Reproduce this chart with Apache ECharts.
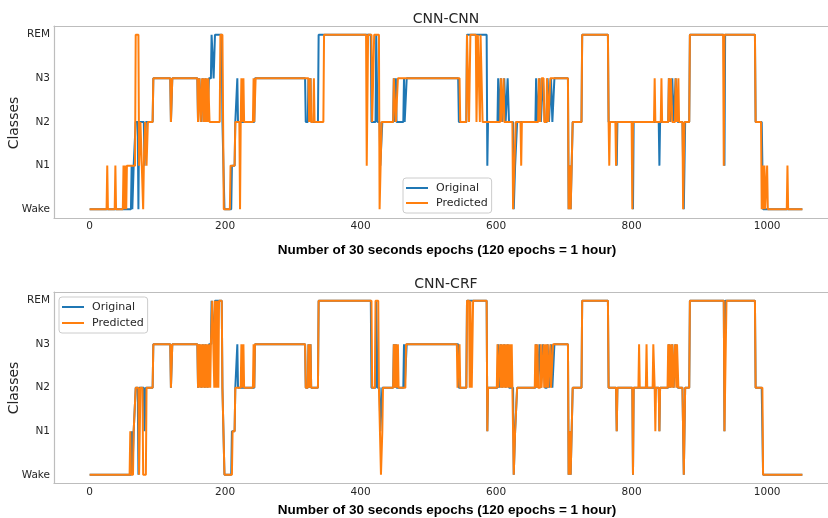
<!DOCTYPE html>
<html>
<head>
<meta charset="utf-8">
<script src="https://cdn.jsdelivr.net/npm/echarts@6/dist/echarts.min.js"></script>
<style>
html,body{margin:0;padding:0;background:#fff;}
#chart{width:828px;height:518px;}
</style>
</head>
<body>
<div id="chart"></div>
<script>
// Sleep stages (y categories) and x tick values
const stageLabels = ['Wake', 'N1', 'N2', 'N3', 'REM'];
const stageValues = [0, 1, 2, 3, 4];
const xTicks = [0, 200, 400, 600, 800, 1000];
const lastEpoch = 1052;

// Hypnograms as runs: [first epoch of run, stage index]
const originalRuns = [
  [0,0],[62,1],[63,0],[65,1],[68,2],[72,0],[73,2],[81,1],[83,2],[94,3],[120,2],[122,3],
  [160,2],[162,3],[165,2],[167,3],[170,2],[171,3],[174,2],[176,3],[180,4],[183,3],[185,4],
  [196,2],[199,0],[210,1],[215,2],[218,3],[219,2],[244,3],[319,2],[323,3],[324,2],[326,3],
  [327,2],[338,4],[416,2],[423,4],[425,2],[429,1],[432,2],[449,3],[450,2],[452,3],[453,2],
  [464,3],[465,2],[468,3],[545,2],[557,4],[587,1],[588,2],[603,3],[605,2],[607,3],[609,2],
  [612,3],[614,2],[617,3],[619,2],[626,0],[628,1],[631,2],[659,3],[661,2],[664,3],[666,2],
  [669,3],[672,2],[676,3],[678,2],[681,3],[683,2],[686,3],[707,0],[709,1],[710,0],[713,2],
  [727,4],[766,2],[778,1],[779,2],[802,0],[803,2],[841,1],[842,2],[855,3],[857,2],[860,3],
  [862,2],[865,3],[868,2],[876,1],[877,0],[878,1],[879,2],[886,4],[937,1],[938,4],[983,2],
  [993,1],[994,0]
];
const cnnCnnRuns = [
  [0,0],[26,1],[27,0],[38,1],[39,0],[50,1],[51,0],[52,1],[54,0],[55,1],[68,4],[73,1],[75,2],
  [77,1],[79,0],[80,1],[82,2],[84,1],[86,2],[94,3],[120,2],[122,3],[160,2],[162,3],[164,2],
  [166,3],[168,2],[169,3],[171,2],[172,3],[174,2],[175,3],[177,2],[193,4],[197,2],[198,0],
  [208,1],[215,2],[222,0],[223,2],[224,3],[225,2],[227,3],[228,2],[242,3],[243,2],[245,3],
  [324,2],[326,3],[327,2],[331,3],[332,2],[346,4],[409,1],[411,4],[417,2],[420,4],[428,0],
  [431,2],[449,3],[452,2],[455,3],[547,2],[557,4],[560,2],[562,4],[571,2],[573,4],[576,2],
  [577,4],[580,2],[607,3],[608,2],[611,3],[612,2],[625,0],[627,1],[629,2],[637,1],[638,2],
  [663,3],[665,2],[667,3],[671,2],[675,3],[677,2],[680,3],[707,0],[709,1],[710,0],[713,2],
  [727,4],[766,2],[767,1],[768,2],[777,1],[778,2],[801,0],[802,2],[834,3],[835,2],[844,3],
  [845,2],[855,3],[856,2],[858,3],[860,2],[865,3],[867,2],[869,3],[870,2],[876,0],[878,2],
  [886,4],[936,1],[937,4],[983,2],[992,0],[994,1],[995,0],[996,1],[997,0],[1000,1],[1001,0],
  [1030,1],[1031,0]
];
const cnnCrfRuns = [
  [0,0],[60,1],[61,0],[65,1],[68,2],[73,0],[75,2],[79,0],[84,2],[94,3],[120,2],[122,3],
  [160,2],[161,3],[163,2],[164,3],[166,2],[167,3],[169,2],[170,3],[172,2],[173,3],[175,2],
  [176,3],[178,2],[179,3],[181,4],[184,2],[185,4],[187,2],[188,4],[190,2],[191,4],[196,2],
  [199,0],[211,1],[215,2],[224,3],[225,2],[227,3],[228,2],[242,3],[243,2],[244,3],[319,2],
  [323,3],[324,2],[326,3],[327,2],[338,4],[417,2],[422,4],[427,2],[430,0],[432,1],[433,2],
  [449,3],[450,2],[452,3],[453,2],[455,3],[456,2],[467,3],[543,2],[546,3],[547,2],[557,4],
  [561,2],[562,4],[564,2],[566,4],[587,1],[588,2],[602,3],[603,2],[606,3],[607,2],[608,3],
  [609,2],[611,3],[612,2],[614,3],[615,2],[617,3],[618,2],[620,3],[621,2],[623,3],[624,2],
  [626,0],[628,1],[631,2],[658,3],[659,2],[661,3],[662,2],[666,3],[667,2],[670,3],[671,2],
  [673,3],[674,2],[676,3],[677,2],[680,3],[681,2],[684,3],[707,0],[709,1],[710,0],[713,2],
  [727,4],[766,2],[778,1],[779,2],[802,0],[803,2],[811,3],[812,2],[822,3],[823,2],[832,3],
  [834,2],[835,1],[836,2],[841,1],[842,2],[854,3],[856,2],[857,3],[859,2],[860,3],[862,2],
  [864,3],[866,2],[867,3],[869,2],[876,1],[877,0],[878,1],[879,2],[886,4],[937,1],[940,4],
  [983,2],[994,0]
];

function expand(runs) {
  const pts = [];
  for (let i = 0; i < runs.length; i++) {
    const s = runs[i][0], v = runs[i][1];
    const e = i < runs.length - 1 ? runs[i + 1][0] - 1 : lastEpoch;
    pts.push([s, v]);
    if (e > s) pts.push([e, v]);
  }
  return pts;
}

const BLUE = '#1f77b4', ORANGE = '#ff7f0e';
const FONT = 'DejaVu Sans';
const FRAME = {show: true, onZero: false, lineStyle: {color: '#bdbdbd', width: 1.2}};

function xAxisCfg(gi) {
  return {
    type: 'value', gridIndex: gi, min: -52.6, max: 1104.6, position: 'bottom',
    axisLine: FRAME, axisTick: {show: false}, splitLine: {show: false},
    axisLabel: {customValues: xTicks, formatter: v => String(Math.round(v)),
      fontSize: 10.5, fontFamily: FONT, color: '#262626', margin: 3}
  };
}
function xAxisTopCfg(gi) {
  return {
    type: 'value', gridIndex: gi, min: -52.6, max: 1104.6, position: 'top',
    axisLine: FRAME, axisTick: {show: false}, splitLine: {show: false}, axisLabel: {show: false}
  };
}
function yAxisCfg(gi) {
  return {
    type: 'value', gridIndex: gi, min: -0.2, max: 4.2, position: 'left',
    axisLine: FRAME, axisTick: {show: false}, splitLine: {show: false},
    axisLabel: {customValues: stageValues, formatter: v => stageLabels[Math.round(v)] || '',
      fontSize: 10.5, fontFamily: FONT, color: '#262626', margin: 4}
  };
}
function lineSeries(name, runs, color, gi) {
  return {
    type: 'line', name: name, xAxisIndex: gi, yAxisIndex: gi, data: expand(runs),
    symbol: 'none', showSymbol: false, animation: false,
    lineStyle: {color: color, width: 2}, itemStyle: {color: color}
  };
}
function legendCfg(left, top, gap) {
  return {
    left: left, top: top, orient: 'vertical', data: ['Original', 'Predicted'],
    icon: 'rect', itemWidth: 22, itemHeight: 2, itemGap: gap,
    textStyle: {fontSize: 11, fontFamily: FONT, color: '#262626', lineHeight: 14, padding: [0, 0, 0, 3]},
    backgroundColor: '#ffffff', borderColor: '#cccccc', borderWidth: 1, borderRadius: 3,
    padding: [3, 4, 3, 3]
  };
}

const chart = echarts.init(document.getElementById('chart'), null, {renderer: 'canvas'});
chart.setOption({
  animation: false,
  backgroundColor: '#ffffff',
  grid: [
    {left: 54, top: 26, width: 784, height: 192, show: false, containLabel: false, outerBoundsMode: 'none'},
    {left: 54, top: 292, width: 784, height: 191.5, show: false, containLabel: false, outerBoundsMode: 'none'}
  ],
  xAxis: [xAxisCfg(0), xAxisCfg(1), xAxisTopCfg(0), xAxisTopCfg(1)],
  yAxis: [yAxisCfg(0), yAxisCfg(1)],
  legend: [legendCfg(403, 178, 1), legendCfg(59, 297, 2)],
  series: [
    lineSeries('Original', originalRuns, BLUE, 0),
    lineSeries('Predicted', cnnCnnRuns, ORANGE, 0),
    lineSeries('Original', originalRuns, BLUE, 1),
    lineSeries('Predicted', cnnCrfRuns, ORANGE, 1)
  ],
  graphic: [
    {type: 'text', x: 446, y: 19, style: {text: 'CNN-CNN', fontSize: 14, fontFamily: FONT, fill: '#262626', align: 'center', verticalAlign: 'middle'}},
    {type: 'text', x: 446, y: 284, style: {text: 'CNN-CRF', fontSize: 14, fontFamily: FONT, fill: '#262626', align: 'center', verticalAlign: 'middle'}},
    {type: 'text', x: 447, y: 250, style: {text: 'Number of 30 seconds epochs (120 epochs = 1 hour)', fontSize: 13.5, fontWeight: 'bold', fontFamily: 'Liberation Sans', fill: '#000', align: 'center', verticalAlign: 'middle'}},
    {type: 'text', x: 447, y: 510, style: {text: 'Number of 30 seconds epochs (120 epochs = 1 hour)', fontSize: 13.5, fontWeight: 'bold', fontFamily: 'Liberation Sans', fill: '#000', align: 'center', verticalAlign: 'middle'}},
    {type: 'text', x: 14, y: 123, rotation: Math.PI / 2, style: {text: 'Classes', fontSize: 14, fontFamily: FONT, fill: '#262626', align: 'center', verticalAlign: 'middle'}},
    {type: 'text', x: 14, y: 388, rotation: Math.PI / 2, style: {text: 'Classes', fontSize: 14, fontFamily: FONT, fill: '#262626', align: 'center', verticalAlign: 'middle'}}
  ]
});
</script>
</body>
</html>
